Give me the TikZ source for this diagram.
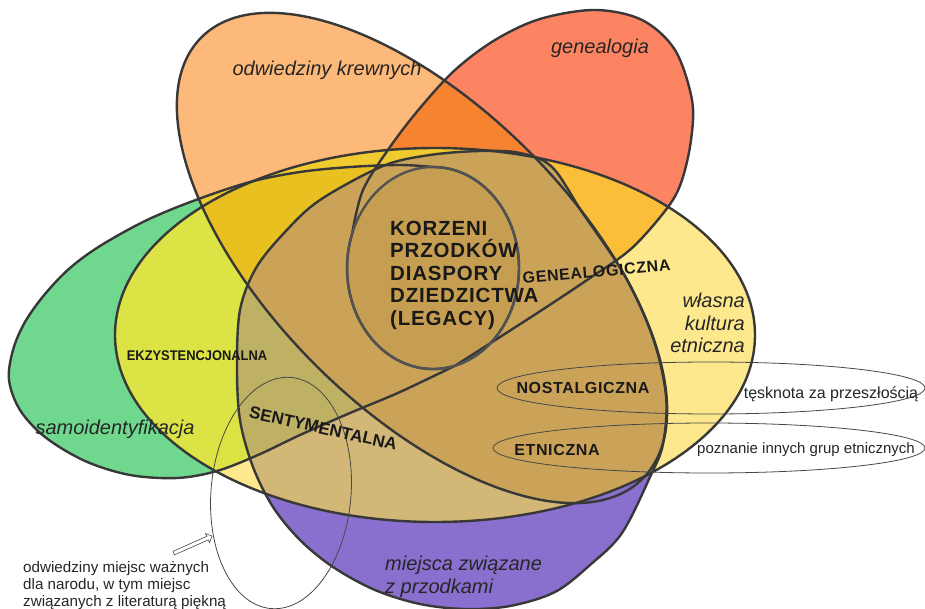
\documentclass[tikz,border=0pt]{standalone}
\usepackage{fontspec}
\setmainfont{Liberation Sans}
\newfontfamily\spacedcaps[LetterSpace=4]{Liberation Sans}
\usetikzlibrary{shapes.arrows}

\definecolor{cOrange}{RGB}{253,185,122}
\definecolor{cRed}{RGB}{252,132,98}
\definecolor{cRedOrange}{RGB}{245,131,48}
\definecolor{cGreen}{RGB}{112,216,142}
\definecolor{cYellow}{RGB}{253,232,142}
\definecolor{cLime}{RGB}{220,227,68}
\definecolor{cGold}{RGB}{240,203,48}
\definecolor{cGoldDeep}{RGB}{232,193,32}
\definecolor{cAmber}{RGB}{251,190,56}
\definecolor{cPurple}{RGB}{137,111,206}
\definecolor{cTan}{RGB}{210,183,118}
\definecolor{cBrown}{RGB}{202,163,89}
\definecolor{cOlive}{RGB}{190,177,100}
\definecolor{cCore}{RGB}{198,158,82}

\begin{document}
\begin{tikzpicture}[x=1pt, y=-1pt,
  orange set/.style={rotate around={-45:(422,258)}, insert path={(422,258) ellipse [x radius=312, y radius=151]}},
  red set/.style={insert path={(455.3,365.6) arc [start angle=75, end angle=200, x radius=86, y radius=101]
      -- plot[smooth, tension=0.55] coordinates {(352.2,233.5) (363,190) (390,147) (420,108) (455,70) (495,40) (540,19) (595,10)
      (642,20) (675,50) (692,100) (691,140) (682,180) (668,207) (632,248) (590,278) (545,308) (500,337) (455.3,365.6)} -- cycle}},
  green set/.style={insert path={plot[smooth, tension=0.55] coordinates {(455.3,365.6) (400,392) (350,413) (300,435) (258,455)
      (217,471) (177,478) (130,475) (85,461) (45,437) (20,410) (9,380) (13,350) (25,322) (45,294) (70,268) (100,246) (145,221)
      (193,201) (250,182) (300,172) (350,167) (400,165) (433,167)} arc [start angle=-90, end angle=75, x radius=86, y radius=101] -- cycle}},
  yellow set/.style={insert path={(435,335) ellipse [x radius=320, y radius=187]}},
  purple set/.style={insert path={plot[smooth cycle, tension=0.55] coordinates {(383,166) (430,155) (480,151) (520,153) (552,167)
      (582,212) (625,276) (653,338) (666,396) (663,444) (650,477) (622,533) (590,565) (555,592) (510,606) (465,609) (420,604)
      (375,590) (333,567) (300,540) (273,507) (253,467) (240,420) (237,367) (240,310) (256,268) (285,232) (320,200)}}},
  core set/.style={insert path={(433,268) ellipse [x radius=86, y radius=101]}},
  rim/.style={draw=black!78, line width=2.4pt, line join=round},
  hairline/.style={draw=black!72, line width=0.8pt},
  setname/.style={font=\fontsize{20}{22.5}\selectfont\itshape, text=black!85, inner sep=0pt},
  kind/.style={font=\spacedcaps\bfseries\fontsize{16}{18}\selectfont, text=black!90, inner sep=0pt},
  coretext/.style={font=\spacedcaps\bfseries\fontsize{20.5}{22.5}\selectfont, text=black!90, inner sep=0pt},
  note/.style={font=\fontsize{15.2}{17}\selectfont, text=black!85, inner sep=0pt}]

  \useasboundingbox (0,0) rectangle (925,609);

  \fill[cOrange, orange set];
  \fill[cRed, red set];
  \fill[cGreen, green set];
  \fill[cYellow, yellow set];
  \fill[cPurple, purple set];
  \begin{scope}
    \clip[orange set];
    \fill[cRedOrange, red set];
  \end{scope}
  \begin{scope}
    \clip[red set];
    \fill[cAmber, yellow set];
  \end{scope}
  \begin{scope}
    \clip[green set];
    \fill[cLime, yellow set];
  \end{scope}
  \begin{scope}
    \clip[orange set];
    \fill[cGold, yellow set];
    \fill[cGold, green set];
    \clip[yellow set];
    \fill[cGoldDeep, green set];
  \end{scope}
  \begin{scope}
    \clip[purple set];
    \fill[cTan, yellow set];
    \clip[yellow set];
    \fill[cOlive, green set];
    \fill[cBrown, orange set];
    \fill[cBrown, red set];
  \end{scope}
  \fill[cCore, core set];

  \draw[rim, orange set];
  \draw[rim, red set];
  \draw[rim, green set];
  \draw[rim, yellow set];
  \draw[rim, purple set];
  \draw[rim, draw=black!68, core set];

  \draw[hairline] (711,388) ellipse [x radius=214, y radius=26];
  \draw[hairline] (709,448) ellipse [x radius=216, y radius=25];
  \draw[hairline, rotate around={-5:(281,493)}] (281,493) ellipse [x radius=70, y radius=116];

  \node[setname, anchor=base] (visits) at (327,76) {odwiedziny krewnych};
  \node[setname, anchor=base] (genealogy) at (600,54) {genealogia};
  \node[setname, anchor=east, align=right] (culture) at (745,323) {własna\\kultura\\etniczna};
  \node[setname, anchor=base] (selfid) at (115,434) {samoidentyfikacja};
  \node[setname, anchor=west, align=left] (places) at (385,577) {miejsca związane\\z przodkami};

  \node[coretext, anchor=west, align=left] (roots) at (390,275) {KORZENI\\PRZODKÓW\\DIASPORY\\DZIEDZICTWA\\(LEGACY)};
  \node[kind, anchor=base, rotate=5] (genealogical) at (597,277) {GENEALOGICZNA};
  \node[kind, anchor=base, rotate=-12.5, font=\bfseries\fontsize{17}{19}\selectfont] (sentimental) at (322,434) {SENTYMENTALNA};
  \node[kind, anchor=base] (nostalgic) at (583,393) {NOSTALGICZNA};
  \node[kind, anchor=base] (ethnic) at (557,455) {ETNICZNA};
  \node[kind, anchor=base, font=\bfseries\fontsize{14}{16}\selectfont] (existential) at (197,360) {\scalebox{0.92}[1]{EKZYSTENCJONALNA}};

  \node[note, anchor=base, font=\fontsize{16}{18}\selectfont] (longing) at (831,398) {tęsknota za przeszłością};
  \node[note, anchor=base, font=\fontsize{15}{17}\selectfont] (othergroups) at (806,453) {poznanie innych grup etnicznych};
  \node[note, anchor=west, align=left] (places note) at (23,586) {odwiedziny miejsc ważnych\\dla narodu, w tym miejsc\\związanych z literaturą piękną};

  \node[single arrow, draw=black!70, line width=0.6pt, fill=white, minimum height=42pt, minimum width=10pt,
        single arrow head extend=3pt, inner sep=1.6pt, rotate=24] (pointer) at (192,545) {};
\end{tikzpicture}
\end{document}
